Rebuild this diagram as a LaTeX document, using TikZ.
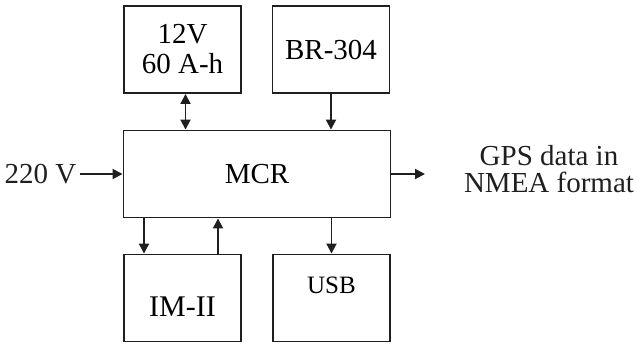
\documentclass[tikz,border=0pt]{standalone}
\usepackage{fontspec}
\setmainfont{Liberation Serif}
\usetikzlibrary{arrows.meta, positioning}
\colorlet{inkline}{black!88}
\tikzset{
  unit/.style={draw=inkline, line width=1.9pt, minimum width=117pt, minimum height=87pt,
    inner sep=0pt, align=center, font=\fontsize{29}{30}\selectfont},
  link/.style={draw=inkline, line width=1.9pt},
  tag/.style={text=inkline, align=center, font=\fontsize{29}{27}\selectfont},
}

\begin{document}
\begin{tikzpicture}[x=1pt, y=-1pt, >={Triangle[length=10pt, width=10pt]}]
  \useasboundingbox (0,0) rectangle (637,349);
  % blocks
  \node[unit] (bat) at (182.5,49.5) {12V\\60 A-h};
  \node[unit] (br) at (331,49.5) {BR-304};
  \node[unit, minimum width=267pt] (mcr) at (257,174) {MCR};
  \node[unit, text height=36pt, text depth=0pt, font=\fontsize{30}{30}\selectfont] (im) at (182.5,298) {IM-II};
  \node[unit, text height=16pt, text depth=25pt, font=\fontsize{25}{26}\selectfont] (usb) at (331.5,298) {USB};
  % outer labels
  \node[tag] (v220) at (40.5,174) {220 V};
  \node[tag] (gps) at (549,169) {GPS data in\\NMEA format};
  \coordinate (gpsend) at (425,174);
  % links
  \draw[link, <->] ([xshift=3pt]bat.south) -- ([xshift=3pt]bat.south |- mcr.north);
  \draw[link, ->] (br.south) -- (br.south |- mcr.north);
  \draw[link, ->] (v220.east) -- (v220.east -| mcr.west);
  \draw[link, ->] (mcr.east) -- (gpsend);
  \draw[link, ->] ([xshift=-38.5pt]im.north |- mcr.south) -- ([xshift=-38.5pt]im.north);
  \draw[link, ->] ([xshift=35.5pt]im.north) -- ([xshift=35.5pt]im.north |- mcr.south);
  \draw[link, ->] (usb.north |- mcr.south) -- (usb.north);
\end{tikzpicture}
\end{document}
